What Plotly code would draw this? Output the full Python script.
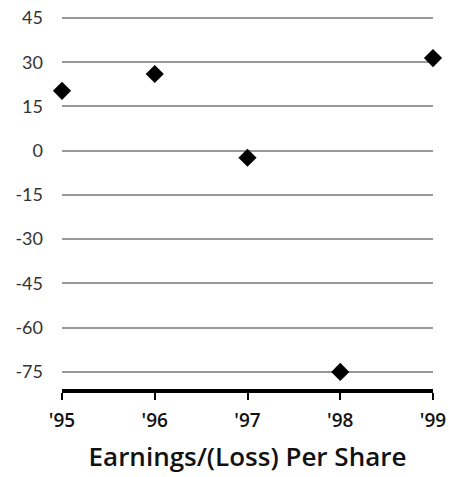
import plotly.graph_objects as go

years = [1995, 1996, 1997, 1998, 1999]
year_labels = ["'95", "'96", "'97", "'98", "'99"]
eps = [20.3, 26.0, -2.4, -75.0, 31.4]
y_ticks = [45, 30, 15, 0, -15, -30, -45, -60, -75]

fig = go.Figure()
fig.add_trace(go.Scatter(
    x=years, y=eps, mode="markers",
    marker=dict(symbol="diamond", size=14, color="black"),
    cliponaxis=False, showlegend=False, hoverinfo="skip",
))

fig.update_layout(
    width=449, height=477,
    margin=dict(l=62, r=16, t=15, b=88),
    plot_bgcolor="white", paper_bgcolor="white",
    font=dict(family="Lato, sans-serif", color="#222"),
)
fig.update_xaxes(
    range=[1995, 1999],
    tickvals=years, ticktext=year_labels,
    showgrid=False, zeroline=False,
    showline=True, linecolor="black", linewidth=4,
    ticks="outside", ticklen=7, tickwidth=1.5, tickcolor="black",
    ticklabelstandoff=4,
    tickfont=dict(family="Open Sans, sans-serif", size=19, color="#111", weight=600),
    title=dict(text="Earnings/(Loss) Per Share",
               font=dict(family="Open Sans, sans-serif", size=26, color="#111", weight=600),
               standoff=17),
    automargin=False,
)
fig.update_yaxes(
    range=[-80.8, 46],
    tickvals=y_ticks, ticktext=[str(v) for v in y_ticks],
    showgrid=True, gridcolor="#999", gridwidth=1.5,
    zeroline=False, showline=False,
    ticks="", ticklabelstandoff=18,
    tickfont=dict(family="Lato, sans-serif", size=18, color="#333"),
    automargin=False,
)

fig.write_html("out.html", config={"displayModeBar": False},
               post_script="document.body.style.margin='0';")
